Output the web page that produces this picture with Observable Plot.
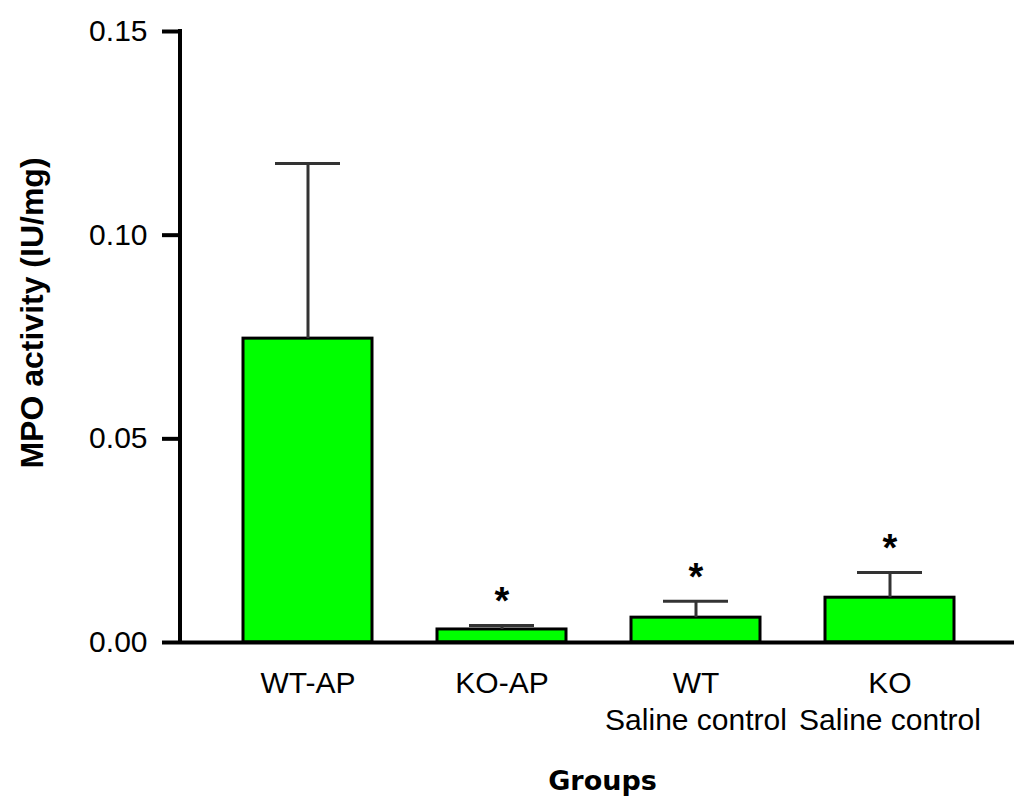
<!DOCTYPE html>
<html>
<head>
<meta charset="utf-8">
<script src="https://cdn.jsdelivr.net/npm/d3@7"></script>
<script src="https://cdn.jsdelivr.net/npm/@observablehq/plot@0.6"></script>
<style>
  html, body { margin: 0; padding: 0; background: #ffffff; }
  #chart svg { display: block; font-family: "Liberation Sans", Arial, sans-serif; }
</style>
</head>
<body>
<div id="chart"></div>
<script>
// ---- data ----
const groups = ["WT-AP", "KO-AP", "WT-Saline", "KO-Saline"];
const groupLabels = ["WT-AP", "KO-AP", "WT\nSaline control", "KO\nSaline control"];
const means = [0.0746, 0.0032, 0.0061, 0.0110];
const errors = [0.0430, 0.0010, 0.0040, 0.0062];
const significant = [false, true, true, true];
const yTicks = [0, 0.05, 0.10, 0.15];
const yLabel = "MPO activity (IU/mg)";
const xLabel = "Groups";

const data = groups.map((g, i) => ({group: g, mean: means[i], top: means[i] + errors[i], sig: significant[i]}));
const labelOf = new Map(groups.map((g, i) => [g, groupLabels[i]]));

// ---- layout ----
const W = 1014, H = 803;
const mL = 180, mR = 0, mT = 31, mB = 161;
const frameCenterX = (mL + W - mR) / 2;

const chart = Plot.plot({
  width: W,
  height: H,
  marginLeft: mL,
  marginRight: mR,
  marginTop: mT,
  marginBottom: mB,
  style: {fontFamily: "'Liberation Sans', Arial, sans-serif", background: "#ffffff", color: "#000"},
  x: {domain: groups, range: [178, 1019], padding: 0.335},
  y: {domain: [0, 0.15], range: [H - mB, mT]},
  marks: [
    Plot.barY(data, {x: "group", y: "mean", fill: "#00ff00", stroke: "#000", strokeWidth: 3}),
    Plot.ruleX(data, {x: "group", y1: "mean", y2: "top", stroke: "#333", strokeWidth: 3}),
    Plot.tickY(data, {x: "group", y: "top", stroke: "#333", strokeWidth: 3, insetLeft: 32, insetRight: 32}),
    Plot.text(data.filter(d => d.sig), {x: "group", y: "top", text: () => "*", fontSize: 38, fontWeight: "bold", lineAnchor: "middle", dy: -24, fill: "#000"}),
    // axes lines
    Plot.ruleY([0], {stroke: "#000", strokeWidth: 4}),
    Plot.ruleX([0], {x: null, y1: 0, y2: 0.15, stroke: "#000", strokeWidth: 4, dx: 179.5 - frameCenterX, strokeLinecap: "square"}),
    Plot.axisY({ticks: yTicks, tickFormat: d3.format(".2f"), tickSize: 18, tickPadding: 15, strokeWidth: 4, fontSize: 30, label: null, fill: "#000"}),
    Plot.axisX({tickSize: 0, tickPadding: 24, tickFormat: d => labelOf.get(d), fontSize: 30, lineHeight: 1.23, label: null, fill: "#000"}),
    // axis titles
    Plot.text([yLabel], {text: d => d, frameAnchor: "left", textAnchor: "middle", rotate: -90, dx: 32 - mL, dy: 312.5 - (mT + H - mB) / 2, fontSize: 32, fontWeight: "bold", lineAnchor: "middle", fill: "#000"}),
    Plot.text([xLabel], {text: d => d, frameAnchor: "bottom", textAnchor: "middle", dx: 602 - frameCenterX, dy: 139, fontSize: 27, fontWeight: "bold", fontFamily: "DejaVu Sans", lineAnchor: "middle", fill: "#000"})
  ]
});
document.getElementById("chart").appendChild(chart);
</script>
</body>
</html>
